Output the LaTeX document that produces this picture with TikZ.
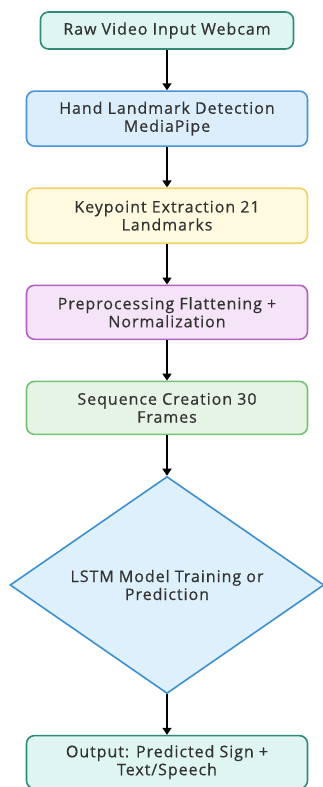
\documentclass[tikz,border=0pt]{standalone}
\usepackage{fontspec}
\setmainfont{Open Sans}[FakeBold=0.6, LetterSpace=6]
\usepackage{tikz}
\usetikzlibrary{shapes.geometric,arrows.meta,positioning}

\definecolor{tealline}{HTML}{2E8B78}
\definecolor{tealfill}{HTML}{DFF5F2}
\definecolor{blueline}{HTML}{4A93D6}
\definecolor{bluefill}{HTML}{DCEEFC}
\definecolor{yellowline}{HTML}{F0D266}
\definecolor{yellowfill}{HTML}{FFFAE0}
\definecolor{purpleline}{HTML}{B262C2}
\definecolor{purplefill}{HTML}{F5E3F7}
\definecolor{greenline}{HTML}{74C274}
\definecolor{greenfill}{HTML}{E5F4E4}
\definecolor{diamline}{HTML}{3D8FCF}
\definecolor{diamfill}{HTML}{DDF0FB}
\definecolor{textgray}{HTML}{333333}

\begin{document}
\begin{tikzpicture}[node distance=40.5pt, auto,
    block/.style={rectangle, rounded corners=8pt, draw, line width=1.6pt, minimum width=281pt, minimum height=55pt, align=center, text=textgray, font=\fontsize{16}{18}\selectfont},
    decision/.style={diamond, draw, line width=1.6pt, aspect=1.45, minimum width=314pt, minimum height=217pt, align=center, text=textgray, font=\fontsize{16}{18}\selectfont, inner sep=0pt},
    arrow/.style={-{Triangle[width=9pt,length=7pt]}, line width=1.6pt}]

    \useasboundingbox (0,0) rectangle (323pt,-787pt);

    \node [block, draw=tealline, fill=tealfill, minimum width=253pt, minimum height=37pt] (webcam) at (167pt,-30.5pt) {Raw Video Input Webcam};
    \node [block, draw=blueline, fill=bluefill, below=of webcam] (detect) {Hand Landmark Detection\\MediaPipe};
    \node [block, draw=yellowline, fill=yellowfill, below=of detect] (keypts) {Keypoint Extraction 21\\Landmarks};
    \node [block, draw=purpleline, fill=purplefill, below=of keypts, minimum height=54pt] (prep) {Preprocessing Flattening +\\Normalization};
    \node [block, draw=greenline, fill=greenfill, below=of prep, minimum height=53pt] (seq) {Sequence Creation 30\\Frames};
    \node [decision, draw=diamline, fill=diamfill, below=of seq] (lstm) {LSTM Model Training or\\Prediction};
    \node [block, draw=tealline, fill=tealfill, below=of lstm, minimum height=53pt] (output) {Output: Predicted Sign +\\Text/Speech};

    \draw [arrow] (webcam) -- (detect);
    \draw [arrow] (detect) -- (keypts);
    \draw [arrow] (keypts) -- (prep);
    \draw [arrow] (prep) -- (seq);
    \draw [arrow] (seq) -- (lstm);
    \draw [arrow] (lstm) -- (output);
\end{tikzpicture}
\end{document}
